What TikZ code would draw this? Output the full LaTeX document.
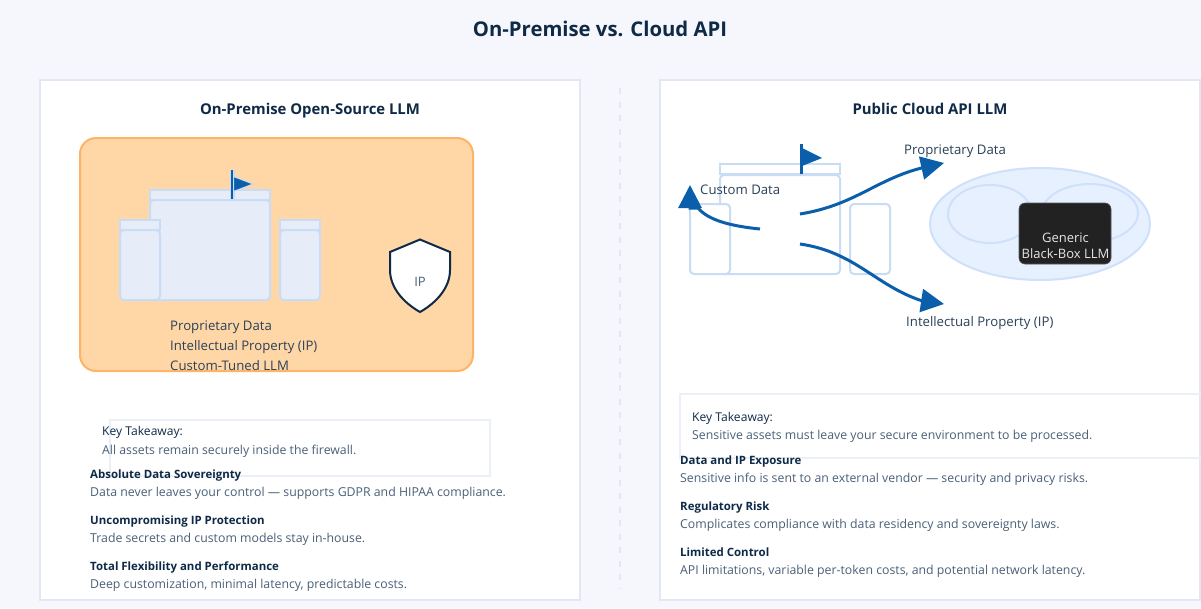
\documentclass[tikz,border=0pt]{standalone}
\usepackage{fontspec}
\setmainfont{Open Sans}
\usetikzlibrary{arrows.meta}
\definecolor{bgc}{HTML}{F5F7FC}
\definecolor{panelc}{HTML}{E1E8F4}
\definecolor{navy}{HTML}{0F2A47}
\definecolor{slatec}{HTML}{4A6078}
\definecolor{bodyc}{HTML}{2B4159}
\definecolor{towerf}{HTML}{E6EDF9}
\definecolor{towers}{HTML}{C9DCF6}
\definecolor{flagc}{HTML}{0B5FAA}
\definecolor{orangef}{HTML}{FFD6A5}
\definecolor{oranges}{HTML}{FDB466}
\definecolor{cloudf}{HTML}{E6F0FE}
\definecolor{clouds}{HTML}{CFE0FA}
\definecolor{boxc}{HTML}{222222}
\definecolor{keyc}{HTML}{EBF0F8}
\tikzset{
  panel/.style={draw=panelc,line width=2pt,fill=white},
  tower/.style={draw=towers,line width=2pt,fill=towerf,rounded corners=4pt},
  towertop/.style={draw=towers,line width=2pt,fill=towerf},
  towerw/.style={draw=towers,line width=2pt,fill=white,rounded corners=4pt},
  towertopw/.style={draw=towers,line width=2pt,fill=white},
  lbl/.style={anchor=base west,inner sep=0pt,font=\fontsize{13.2}{16}\selectfont,text=bodyc},
  txt/.style={anchor=base west,inner sep=0pt,font=\fontsize{12.3}{15}\selectfont,text=bodyc},
  desc/.style={txt,text=slatec},
  keyt/.style={txt,font=\fontsize{12.1}{15}\selectfont,text=navy},
  head/.style={txt,font=\fontsize{11.45}{14}\bfseries\selectfont,text=navy},
  ptitle/.style={anchor=base,inner sep=0pt,font=\fontsize{14.9}{18}\bfseries\selectfont,text=navy},
  flow/.style={draw=flagc,line width=3pt,-{Triangle[length=23pt,width=23pt,fill=flagc]}},
  inbox/.style={anchor=base,inner sep=0pt,font=\fontsize{13}{16}\selectfont,text=white!90!black},
}
\begin{document}
\begin{tikzpicture}[x=1pt,y=-1pt]
\useasboundingbox (0,0) rectangle (1201,608);
\fill[bgc] (0,0) rectangle (1201,608);
\node[anchor=base,inner sep=0pt,font=\fontsize{20.3}{25}\bfseries\selectfont,text=navy] (title) at (600,36) {On-Premise vs. Cloud API};
% panels
\draw[panel] (40,80) rectangle (580,600);
\draw[panel] (660,80) rectangle (1200,600);
\draw[panelc,line width=1.6pt,dash pattern=on 6pt off 7.5pt] (620,88) -- (620,588);
\node[ptitle] (lt) at (310,114) {On-Premise Open-Source LLM};
\node[ptitle] (rt) at (930,114) {Public Cloud API LLM};
% firewall
\draw[draw=oranges,fill=orangef,line width=2pt,rounded corners=16pt] (80,138) rectangle (473,371);
% left castle
\draw[towertop] (150,190) rectangle (270,200);
\draw[tower] (150,200) rectangle (270,300);
\draw[towertop] (120,220) rectangle (160,230);
\draw[tower] (120,230) rectangle (160,300);
\draw[towertop] (280,220) rectangle (320,230);
\draw[tower] (280,230) rectangle (320,300);
\fill[towers] (230,170) rectangle (234.5,199);
\draw[flagc,line width=1.4pt] (232,170) -- (232,199);
\draw[fill=flagc,draw=towers,line width=1pt,line join=miter] (233.5,176.5) -- (253,184) -- (233.5,191.5) -- cycle;
% shield
\draw[fill=white,draw=navy,line width=2pt,line join=miter] (420,239.5) -- (450,252) -- (450,270) .. controls (450,288) and (436,303) .. (420,312) .. controls (404,303) and (390,288) .. (390,270) -- (390,252) -- cycle;
\node[anchor=base,inner sep=0pt,font=\fontsize{13}{16}\selectfont,text=slatec] (ip) at (420,286) {IP};
\node[lbl] (a1) at (170,330) {Proprietary Data};
\node[lbl] (a2) at (170,350) {Intellectual Property (IP)};
\node[lbl] (a3) at (170,370) {Custom-Tuned LLM};
% right castle
\draw[towertopw] (720,164) rectangle (840,174);
\draw[towerw] (720,175) rectangle (840,274);
\draw[towerw] (690,204) rectangle (730,274);
\draw[towerw] (850,204) rectangle (890,274);
\draw[flagc,line width=3pt] (801,144) -- (801,174);
\fill[flagc] (802,148) -- (822,158) -- (802,166) -- cycle;
% cloud
\draw[fill=cloudf,draw=clouds,line width=2pt] (1040,224) ellipse [x radius=110,y radius=56];
\draw[clouds,line width=2pt] (990,214) ellipse [x radius=42,y radius=29];
\draw[clouds,line width=2pt] (1090,213) ellipse [x radius=48,y radius=29];
\node[draw=gray!70!black,fill=boxc,line width=.6pt,rounded corners=6pt,minimum width=92pt,minimum height=61pt,inner sep=0pt] (llm) at (1065,233.5) {};
\node[inbox] (g1) at (1065.5,242) {Generic};
\node[inbox] (g2) at (1065.5,258) {Black-Box LLM};
% arrows
\coordinate (s1) at (760,229);
\coordinate (e1) at (690,185);
\coordinate (s2) at (800,214);
\coordinate (e2) at (944,163);
\coordinate (s3) at (800,244);
\coordinate (e3) at (944,304);
\draw[flow] (s1) .. controls (730,226) and (708,220) .. (698,208) -- (690,208) -- (e1);
\draw[flow] (s2) .. controls (855,205) and (875,180) .. (921.5,168) -- (e2);
\draw[flow] (s3) .. controls (855,252) and (875,285) .. (921,300.5) -- (e3);
\node[lbl] (b1) at (700,194) {Custom Data};
\node[lbl] (b2) at (904,154) {Proprietary Data};
\node[lbl] (b3) at (906,326) {Intellectual Property (IP)};
% left key
\draw[keyc,line width=2pt] (110,420) rectangle (490,476);
\node[keyt] (k1) at (102,435) {Key Takeaway:};
\node[desc] (k2) at (102,454) {All assets remain securely inside the firewall.};
\node[head] (l1) at (90,478) {Absolute Data Sovereignty};
\node[desc] (l2) at (90,496) {Data never leaves your control — supports GDPR and HIPAA compliance.};
\node[head] (l3) at (90,524) {Uncompromising IP Protection};
\node[desc] (l4) at (90,542) {Trade secrets and custom models stay in-house.};
\node[head] (l5) at (90,570) {Total Flexibility and Performance};
\node[desc] (l6) at (90,588) {Deep customization, minimal latency, predictable costs.};
% right key
\draw[keyc,line width=2pt] (1203,394) -- (680,394) -- (680,458) -- (1203,458);
\node[keyt] (m1) at (692,421) {Key Takeaway:};
\node[desc] (m2) at (692,439) {Sensitive assets must leave your secure environment to be processed.};
\node[head] (r1) at (680,464) {Data and IP Exposure};
\node[desc] (r2) at (680,482) {Sensitive info is sent to an external vendor — security and privacy risks.};
\node[head] (r3) at (680,510) {Regulatory Risk};
\node[desc] (r4) at (680,528) {Complicates compliance with data residency and sovereignty laws.};
\node[head] (r5) at (680,556) {Limited Control};
\node[desc] (r6) at (680,574) {API limitations, variable per-token costs, and potential network latency.};
\end{tikzpicture}
\end{document}
